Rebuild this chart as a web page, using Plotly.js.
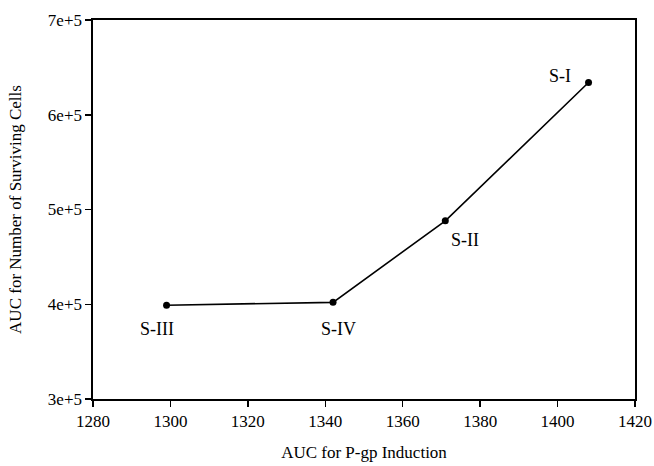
<!DOCTYPE html>
<html>
<head>
<meta charset="utf-8">
<script src="https://cdn.plot.ly/plotly-3.0.1.min.js"></script>
<style>html,body{margin:0;padding:0;background:#fff;}#chart{width:654px;height:466px;}</style>
</head>
<body>
<div id="chart"></div>
<script>
var labels = ["S-III", "S-IV", "S-II", "S-I"];
var pgpAUC = [1299, 1342, 1371, 1408];
var cellsAUC = [399000, 402000, 488000, 634000];
var xTicks = [1280, 1300, 1320, 1340, 1360, 1380, 1400, 1420];
var yTickVals = [300000, 400000, 500000, 600000, 700000];
var yTickText = ["3e+5", "4e+5", "5e+5", "6e+5", "7e+5"];

var labelShift = {"S-III": [-10, -24], "S-IV": [5, -27], "S-II": [20, -19], "S-I": [-29, 7]};

var font = "'Liberation Serif', serif";

var trace = {
  x: pgpAUC, y: cellsAUC, mode: "lines+markers", type: "scatter",
  line: {color: "#000", width: 1.6},
  marker: {color: "#000", size: 7},
  hoverinfo: "none"
};

var annotations = labels.map(function (t, i) {
  return {
    x: pgpAUC[i], y: cellsAUC[i], xref: "x", yref: "y", text: t, showarrow: false,
    xshift: labelShift[t][0], yshift: labelShift[t][1],
    font: {family: font, size: 18, color: "#000"}
  };
});

var layout = {
  width: 654, height: 466,
  margin: {l: 93, r: 19, t: 20, b: 67},
  paper_bgcolor: "#fff", plot_bgcolor: "#fff",
  showlegend: false,
  font: {family: font, color: "#000"},
  xaxis: {
    range: [1280, 1420], tickvals: xTicks, ticks: "outside", ticklen: 6, tickwidth: 1.5, tickcolor: "#000",
    showline: true, linecolor: "#000", linewidth: 1.6, mirror: true, showgrid: false, zeroline: false,
    tickfont: {family: font, size: 17, color: "#000"},
    title: {text: "AUC for P-gp Induction", font: {family: font, size: 17, color: "#000"}, standoff: 16}
  },
  yaxis: {
    range: [300000, 700000], tickvals: yTickVals, ticktext: yTickText, ticks: "outside", ticklen: 6, tickwidth: 1.5, tickcolor: "#000",
    showline: true, linecolor: "#000", linewidth: 1.6, mirror: true, showgrid: false, zeroline: false,
    tickfont: {family: font, size: 17, color: "#000"},
    title: {text: "AUC for Number of Surviving Cells", font: {family: font, size: 17, color: "#000"}, standoff: 22}
  },
  annotations: annotations
};

Plotly.newPlot("chart", [trace], layout, {displayModeBar: false, staticPlot: true});
</script>
</body>
</html>
